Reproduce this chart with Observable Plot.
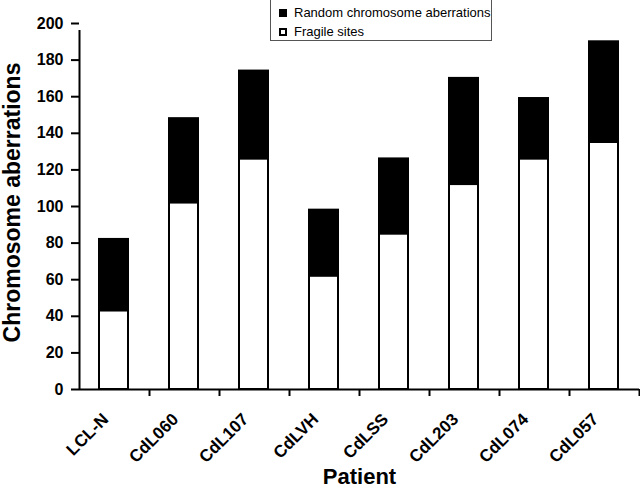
<!DOCTYPE html>
<html>
<head>
<meta charset="utf-8">
<script src="https://cdn.jsdelivr.net/npm/d3@7"></script>
<script src="https://cdn.jsdelivr.net/npm/@observablehq/plot@0.6"></script>
<style>
  body { margin: 0; background: white; }
  #wrap { position: relative; width: 640px; height: 488px; }
  #legend { position: absolute; left: 270px; top: -1px; width: 222px; height: 42px; border: 1px solid #555; background: white;
            font: 13px "Liberation Sans", Arial, sans-serif; color: black; box-sizing: border-box; }
  .item { position: absolute; left: 8px; height: 16px; line-height: 16px; display: flex; align-items: center; }
  .sw { width: 8px; height: 8px; box-sizing: border-box; margin-right: 7px; }
</style>
</head>
<body>
<div id="wrap"></div>
<script>
const patients = ["LCL-N", "CdL060", "CdL107", "CdLVH", "CdLSS", "CdL203", "CdL074", "CdL057"];
const fragileSites = [43, 102, 126, 62, 85, 112, 126, 135];
const randomAberrations = [39, 46, 48, 36, 41, 58, 33, 55];
const seriesNames = ["Random chromosome aberrations", "Fragile sites"];
const seriesColors = ["black", "white"];
const yTicks = [0, 20, 40, 60, 80, 100, 120, 140, 160, 180, 200];
const xTitle = "Patient";
const yTitle = "Chromosome aberrations";

const rows = [];
patients.forEach((p, i) => {
  rows.push({patient: p, series: seriesNames[1], value: fragileSites[i]});
  rows.push({patient: p, series: seriesNames[0], value: randomAberrations[i]});
});

const chart = Plot.plot({
  width: 640,
  height: 488,
  marginTop: 23,
  marginBottom: 99,
  marginLeft: 79,
  marginRight: 1,
  style: {fontFamily: "'Liberation Sans', Arial, sans-serif", fontSize: "16px", fontWeight: "bold", color: "black", background: "white"},
  x: {domain: patients, padding: 0},
  y: {domain: [0, 200]},
  color: {domain: seriesNames, range: seriesColors},
  marks: [
    Plot.barY(rows, {x: "patient", y: "value", fill: "series", order: [seriesNames[1], seriesNames[0]],
      stroke: "black", strokeWidth: 2, insetLeft: 20, insetRight: 21}),
    Plot.ruleY([0], {strokeWidth: 2}),
    Plot.ruleX(patients, {x: d => d, y1: 0, y2: 0, insetBottom: -7, dx: 35, strokeWidth: 2}),
    Plot.ruleX(patients.slice(0, 1), {x: d => d, y1: 0, y2: yTicks[yTicks.length - 1], insetBottom: -7, dx: -35, strokeWidth: 2}),
    Plot.axisY({ticks: yTicks, tickSize: 8, tickPadding: 8, strokeWidth: 2, label: null, fontSize: 16, fontWeight: "bold"}),
    Plot.axisX({tickSize: 0, tickRotate: -45, tickPadding: 27, dx: -9, label: null, fontSize: 17, fontWeight: "bold"}),
    Plot.text([xTitle], {text: d => d, frameAnchor: "bottom", dy: 94, fontSize: 22, fontWeight: "bold"}),
    Plot.text([yTitle], {text: d => d, frameAnchor: "left", textAnchor: "middle", rotate: -90, dx: -67, dy: -4, fontSize: 23, fontWeight: "bold"})
  ]
});

const wrap = document.getElementById("wrap");
wrap.appendChild(chart);

const legend = document.createElement("div");
legend.id = "legend";
seriesNames.forEach((name, i) => {
  const item = document.createElement("div");
  item.className = "item";
  item.style.top = (5 + i * 19) + "px";
  const sw = document.createElement("div");
  sw.className = "sw";
  sw.style.background = seriesColors[i];
  sw.style.border = "2.5px solid black";
  item.appendChild(sw);
  const t = document.createElement("span");
  t.textContent = name;
  item.appendChild(t);
  legend.appendChild(item);
});
wrap.appendChild(legend);
</script>
</body>
</html>
